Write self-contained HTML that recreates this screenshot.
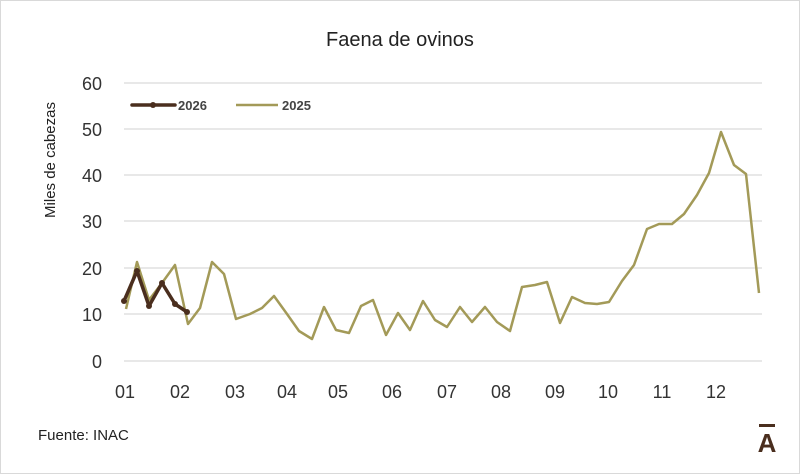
<!DOCTYPE html><html><head><style>body{margin:0;background:#fff}svg{display:block}text{font-family:"Liberation Sans",sans-serif}</style></head><body>
<svg width="800" height="474" viewBox="0 0 800 474">
<rect x="0.5" y="0.5" width="799" height="473" fill="#fff" stroke="#d9d9d9"/>
<text x="400" y="46" text-anchor="middle" font-size="20" fill="#222">Faena de ovinos</text>
<g stroke="#d9d9d9" stroke-width="1.3">
<line x1="124" x2="762" y1="83" y2="83"/><line x1="124" x2="762" y1="129" y2="129"/><line x1="124" x2="762" y1="175" y2="175"/><line x1="124" x2="762" y1="221" y2="221"/><line x1="124" x2="762" y1="268" y2="268"/><line x1="124" x2="762" y1="314" y2="314"/><line x1="124" x2="762" y1="361" y2="361"/></g>
<g font-size="18" fill="#333" text-anchor="end">
<text x="102" y="90">60</text><text x="102" y="136">50</text><text x="102" y="182">40</text><text x="102" y="228">30</text><text x="102" y="275">20</text><text x="102" y="321">10</text><text x="102" y="368">0</text></g>
<text transform="translate(55,160) rotate(-90)" text-anchor="middle" font-size="15" fill="#222">Miles de cabezas</text>
<g font-size="18" fill="#333" text-anchor="middle">
<text x="125" y="398">01</text><text x="180" y="398">02</text><text x="235" y="398">03</text><text x="287" y="398">04</text><text x="338" y="398">05</text><text x="392" y="398">06</text><text x="447" y="398">07</text><text x="501" y="398">08</text><text x="555" y="398">09</text><text x="608" y="398">10</text><text x="662" y="398">11</text><text x="716" y="398">12</text></g>
<polyline fill="none" stroke="#a39a58" stroke-width="2.5" stroke-linejoin="round" points="126,309 137,262 149,300 162,283 175,265 188,324 200,308 212,262 224,274 236,319 250,314 262,308 274,296 287,314 299,331 312,339 324,307 336,330 349,333 361,306 373,300 386,335 398,313 410,330 423,301 435,320 447,327 460,307 472,322 485,307 497,322 510,331 522,287 535,285 547,282 560,323 572,297 585,303 597,304 609,302 622,281 634,265 647,229 659,224 672,224 684,214 697,195 709,173 721,132 734,165 746,174 759,293"/>
<polyline fill="none" stroke="#4a2e1e" stroke-width="3.5" stroke-linejoin="round" points="124,301 137,271 149,306 162,283 175,304 187,312"/>
<g fill="#4a2e1e"><circle cx="124" cy="301" r="3"/><circle cx="137" cy="271" r="3"/><circle cx="149" cy="306" r="3"/><circle cx="162" cy="283" r="3"/><circle cx="175" cy="304" r="3"/><circle cx="187" cy="312" r="3"/></g>
<line x1="132" x2="175" y1="105" y2="105" stroke="#4a2e1e" stroke-width="3.5" stroke-linecap="round"/><circle cx="153" cy="105" r="3" fill="#4a2e1e"/>
<text x="178" y="110" font-size="13" font-weight="bold" fill="#444">2026</text>
<line x1="236" x2="278" y1="105" y2="105" stroke="#a39a58" stroke-width="2.5"/>
<text x="282" y="110" font-size="13" font-weight="bold" fill="#444">2025</text>
<text x="38" y="440" font-size="15" fill="#222">Fuente: INAC</text>
<text x="767" y="452" text-anchor="middle" font-size="26" font-weight="bold" fill="#4a2e1e">A</text>
<rect x="759" y="424" width="16" height="3" fill="#4a2e1e"/>
</svg></body></html>
